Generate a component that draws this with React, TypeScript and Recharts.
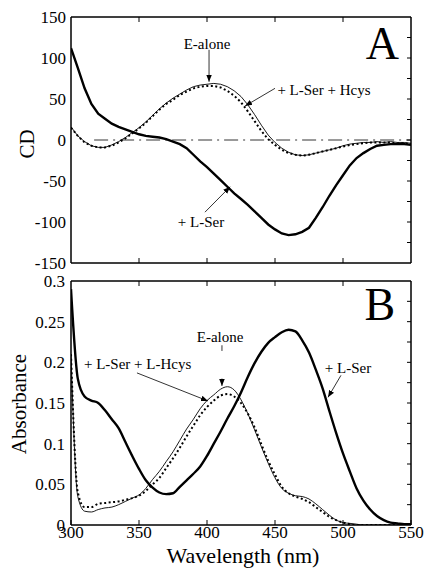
import { LineChart, Line, XAxis, YAxis, ReferenceLine, ReferenceDot, ReferenceArea } from 'recharts'

// wavelength grid (nm), shared by both panels
const wavelengths = [
  300, 305, 310, 315, 320, 325, 330, 335, 340, 345,
  350, 355, 360, 365, 370, 375, 380, 385, 390, 395,
  400, 405, 410, 415, 420, 425, 430, 435, 440, 445,
  450, 455, 460, 465, 470, 475, 480, 485, 490, 495,
  500, 505, 510, 515, 520, 525, 530, 535, 540, 545, 550,
]

// panel A: CD
const cdLSer = [
  112, 88, 63, 44, 32, 26, 20, 16, 13, 10,
  7, 5, 4, 3, 1, -2, -5, -10, -18, -26,
  -33, -41, -49, -57, -65, -72, -79, -87, -95, -103,
  -109, -114, -116, -115, -112, -107, -95, -82, -68, -55,
  -43, -31, -22, -16, -11, -7, -6, -5, -5, -5, -6,
]
const cdLSerHcys = [
  15, 5, -3, -7, -9, -9, -7, -3, 2, 8,
  14, 21, 29, 37, 44, 49, 55, 59, 63, 65,
  66, 66, 64, 60, 54, 46, 35, 23, 11, 1,
  -6, -12, -16, -18, -19, -18, -16, -14, -12, -10,
  -8, -6, -5, -4, -3, -3, -3, -3, -4, -4, -5,
]
const cdAlone = [
  16, 5, -2, -7, -9, -9, -6, -2, 3, 9,
  15, 22, 30, 38, 45, 51, 56, 61, 65, 67,
  68, 69, 68, 65, 60, 53, 43, 31, 18, 6,
  -3, -10, -15, -18, -19, -18, -16, -14, -12, -10,
  -7, -5, -4, -3, -3, -2, -3, -2, -3, -3, -4,
]

// panel B: absorbance
const absLSer = [
  0.29, 0.18, 0.158, 0.153, 0.15, 0.141, 0.13, 0.119, 0.102, 0.085,
  0.069, 0.055, 0.046, 0.04, 0.038, 0.039, 0.047, 0.055, 0.063, 0.072,
  0.085, 0.1, 0.115, 0.131, 0.146, 0.163, 0.182, 0.199, 0.213, 0.224,
  0.231, 0.237, 0.24, 0.238, 0.227, 0.212, 0.191, 0.168, 0.14, 0.113,
  0.088, 0.066, 0.045, 0.03, 0.019, 0.011, 0.006, 0.003, 0.002, 0.001, 0.001,
]
const absLSerHcys = [
  0.21, 0.04, 0.022, 0.022, 0.026, 0.027, 0.028, 0.029, 0.031, 0.033,
  0.036, 0.042, 0.05, 0.058, 0.07, 0.082, 0.095, 0.109, 0.122, 0.135,
  0.145, 0.153, 0.159, 0.161, 0.158, 0.15, 0.137, 0.12, 0.099, 0.079,
  0.062, 0.047, 0.039, 0.035, 0.032, 0.028, 0.022, 0.016, 0.01, 0.006,
  0.003, 0.001, 0, 0, 0, 0, 0, 0, 0, 0, 0,
]
const absAlone = [
  0.21, 0.035, 0.017, 0.016, 0.019, 0.021, 0.022, 0.025, 0.029, 0.033,
  0.037, 0.045, 0.056, 0.066, 0.078, 0.09, 0.104, 0.118, 0.13, 0.143,
  0.153, 0.16, 0.167, 0.17, 0.166, 0.154, 0.137, 0.117, 0.096, 0.076,
  0.058, 0.045, 0.039, 0.036, 0.035, 0.032, 0.026, 0.019, 0.012, 0.006,
  0.003, 0.002, 0.001, 0, 0, 0, 0, 0, 0, 0, 0,
]

const xTicks = [300, 350, 400, 450, 500, 550]
const xInnerTicks = [350, 400, 450, 500]
const cdTicks = [-150, -100, -50, 0, 50, 100, 150]
const cdMinorTicks = [-125, -100, -75, -50, -25, 0, 25, 50, 75, 100, 125]
const absTicks = [0, 0.05, 0.1, 0.15, 0.2, 0.25, 0.3]
const absMinorTicks = [0.025, 0.05, 0.075, 0.1, 0.125, 0.15, 0.175, 0.2, 0.225, 0.25, 0.275]

const cdData = wavelengths.map((wl, i) => ({ wl, lser: cdLSer[i], hcys: cdLSerHcys[i], alone: cdAlone[i] }))
const absData = wavelengths.map((wl, i) => ({ wl, lser: absLSer[i], hcys: absLSerHcys[i], alone: absAlone[i] }))

const FONT = '"Times New Roman", "Liberation Serif", Tinos, "DejaVu Serif", "Noto Serif", serif'
const tickStyle = { fill: '#000', fontSize: 17, fontFamily: FONT }
const blank = () => ''

const arrowShape = (p: any) => (
  <line x1={p.x1} y1={p.y1} x2={p.x2} y2={p.y2} stroke="#000" strokeWidth={0.8} markerEnd="url(#arrowHead)" />
)
const plainShape = (p: any) => (
  <line x1={p.x1} y1={p.y1} x2={p.x2} y2={p.y2} stroke="#000" strokeWidth={0.8} />
)

function note(x: number, y: number, text: string, size = 15) {
  return (
    <ReferenceDot
      key={text + x}
      x={x}
      y={y}
      r={1}
      fill="none"
      stroke="none"
      label={{ value: text, position: 'center', fill: '#000', fontSize: size, fontFamily: FONT }}
    />
  )
}

function arrow(x1: number, y1: number, x2: number, y2: number, head = true) {
  return (
    <ReferenceLine
      key={`${x1}-${y1}-${x2}-${y2}`}
      segment={[{ x: x1, y: y1 }, { x: x2, y: y2 }]}
      shape={head ? arrowShape : plainShape}
    />
  )
}

export default function App() {
  const rotated = (cx: number, cy: number, size: number, text: string) => (
    <div
      style={{
        position: 'absolute', left: cx, top: cy, transform: 'translate(-50%, -50%) rotate(-90deg)',
        fontSize: size, lineHeight: 1, whiteSpace: 'nowrap',
      }}
    >
      {text}
    </div>
  )

  return (
    <div style={{ position: 'absolute', left: 0, top: 0, width: 427, height: 569, background: '#fff', fontFamily: FONT, color: '#000' }}>
      <svg width={0} height={0} style={{ position: 'absolute' }}>
        <defs>
          <marker id="arrowHead" viewBox="0 0 10 10" refX="10" refY="5" markerWidth="7" markerHeight="7" markerUnits="userSpaceOnUse" orient="auto">
            <path d="M0,1 L10,5 L0,9 z" fill="#000" />
          </marker>
        </defs>
      </svg>

      {/* panel A: CD */}
      <div style={{ position: 'absolute', left: 0, top: 0 }}>
        <LineChart width={427} height={276} data={cdData} margin={{ top: 16, right: 15, bottom: 12, left: 0 }}>
          <XAxis dataKey="wl" type="number" domain={[300, 550]} ticks={xInnerTicks} interval={0} height={1}
            tickSize={-5} tickFormatter={blank} stroke="#000" allowDataOverflow />
          <XAxis xAxisId="top" orientation="top" dataKey="wl" type="number" domain={[300, 550]} ticks={xInnerTicks} interval={0}
            height={1} tickSize={-5} tickFormatter={blank} stroke="#000" allowDataOverflow />
          <YAxis type="number" domain={[-150, 150]} ticks={cdTicks} interval={0} width={71}
            tickLine={false} tickSize={0} tickMargin={5} tick={tickStyle} stroke="#000" allowDataOverflow />
          <YAxis yAxisId="right" orientation="right" type="number" domain={[-150, 150]} ticks={cdMinorTicks} interval={0}
            width={1} tickSize={-4} tickFormatter={blank} stroke="#000" allowDataOverflow />
          <ReferenceArea x1={300} x2={550} y1={-150} y2={150} fill="none" stroke="#000" strokeWidth={1} ifOverflow="visible" />
          <ReferenceLine segment={[{ x: 317, y: 0 }, { x: 550, y: 0 }]} stroke="#000" strokeWidth={0.8} strokeDasharray="14 5 2 5" />
          <Line dataKey="alone" stroke="#000" strokeWidth={0.9} dot={false} isAnimationActive={false} type="linear" />
          <Line dataKey="hcys" stroke="#000" strokeWidth={2} strokeDasharray="2 2.5" dot={false} isAnimationActive={false} type="linear" />
          <Line dataKey="lser" stroke="#000" strokeWidth={2.4} dot={false} isAnimationActive={false} type="linear" />
          {note(400, 118, 'E-alone')}
          {arrow(401.5, 110, 401.5, 71)}
          {note(486, 61, '+ L-Ser + Hcys')}
          {arrow(450, 63, 428, 41.5)}
          {note(395.6, -100, '+ L-Ser')}
          {arrow(398.5, -88, 417, -57)}
          {note(529, 119, 'A', 46)}
        </LineChart>
      </div>

      {/* panel B: absorbance */}
      <div style={{ position: 'absolute', left: 0, top: 265 }}>
        <LineChart width={427} height={304} data={absData} margin={{ top: 15, right: 15, bottom: 0, left: 0 }}>
          <XAxis dataKey="wl" type="number" domain={[300, 550]} ticks={xTicks} interval={0} height={44}
            tickSize={-5} tickMargin={6} tick={tickStyle} stroke="#000" allowDataOverflow />
          <XAxis xAxisId="top" orientation="top" dataKey="wl" type="number" domain={[300, 550]} ticks={xInnerTicks} interval={0}
            height={1} tickSize={-5} tickFormatter={blank} stroke="#000" allowDataOverflow />
          <YAxis type="number" domain={[0, 0.3]} ticks={absTicks} interval={0} width={71}
            tickLine={false} tickSize={0} tickMargin={6} tick={tickStyle} stroke="#000" allowDataOverflow />
          <YAxis yAxisId="right" orientation="right" type="number" domain={[0, 0.3]} ticks={absMinorTicks} interval={0}
            width={1} tickSize={-4} tickFormatter={blank} stroke="#000" allowDataOverflow />
          <ReferenceArea x1={300} x2={550} y1={0} y2={0.3} fill="none" stroke="#000" strokeWidth={1} ifOverflow="visible" />
          <Line dataKey="alone" stroke="#000" strokeWidth={0.9} dot={false} isAnimationActive={false} type="monotone" />
          <Line dataKey="hcys" stroke="#000" strokeWidth={2} strokeDasharray="2 2.5" dot={false} isAnimationActive={false} type="monotone" />
          <Line dataKey="lser" stroke="#000" strokeWidth={2.4} dot={false} isAnimationActive={false} type="monotone" />
          {note(409.6, 0.231, 'E-alone')}
          {arrow(411, 0.221, 411, 0.214, false)}
          {arrow(411, 0.18, 411, 0.171)}
          {note(349, 0.198, '+ L-Ser + L-Hcys')}
          {arrow(348.5, 0.187, 400.7, 0.1525)}
          {note(503.7, 0.194, '+ L-Ser')}
          {arrow(498.5, 0.184, 489, 0.157)}
          {note(527, 0.272, 'B', 46)}
        </LineChart>
      </div>

      {rotated(27, 144, 21, 'CD')}
      {rotated(19, 404, 21, 'Absorbance')}
      <div style={{ position: 'absolute', left: 243, top: 556, transform: 'translate(-50%, -50%)', fontSize: 22, lineHeight: 1, whiteSpace: 'nowrap' }}>
        Wavelength (nm)
      </div>
    </div>
  )
}
